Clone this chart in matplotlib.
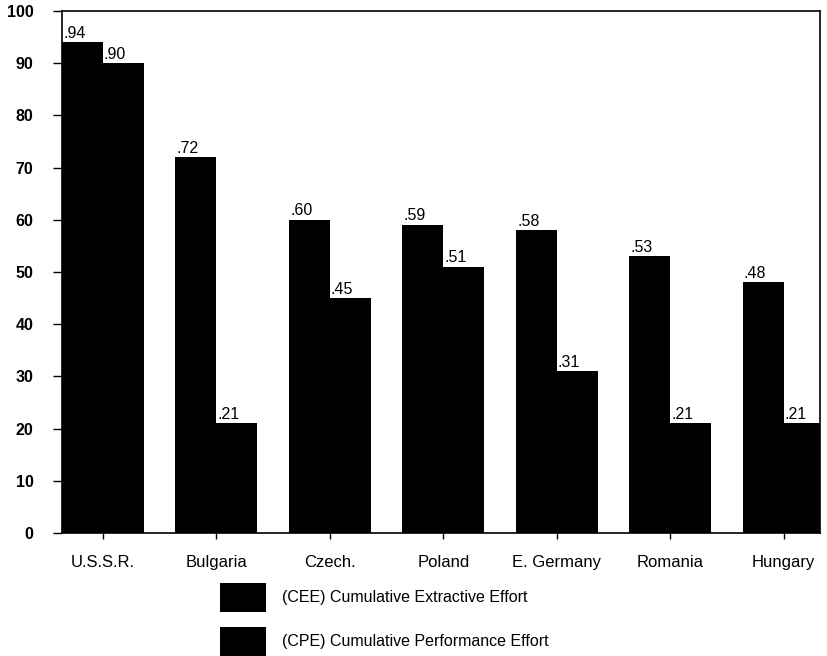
import numpy as np
import matplotlib
matplotlib.use("Agg")
import matplotlib.pyplot as plt

plt.rcParams["font.family"] = ["Liberation Sans", "DejaVu Sans"]

# country groups and the two effort indices
countries = ["U.S.S.R.", "Bulgaria", "Czech.", "Poland", "E. Germany", "Romania", "Hungary"]
cee = [0.94, 0.72, 0.60, 0.59, 0.58, 0.53, 0.48]
cpe = [0.90, 0.21, 0.45, 0.51, 0.31, 0.21, 0.21]
cee_label = "(CEE) Cumulative Extractive Effort"
cpe_label = "(CPE) Cumulative Performance Effort"
y_ticks = [0, 10, 20, 30, 40, 50, 60, 70, 80, 90, 100]

x = np.arange(len(countries))
w = 0.36

fig = plt.figure(figsize=(8.28, 6.56), dpi=100)
ax = fig.add_axes([0.0749, 0.1875, 0.9154, 0.7957])

cee_pct = [v * 100 for v in cee]
cpe_pct = [v * 100 for v in cpe]
b1 = ax.bar(x - w / 2, cee_pct, width=w, color="black", label=cee_label)
b2 = ax.bar(x + w / 2, cpe_pct, width=w, color="black", label=cpe_label)

# value labels sit on the left corner of each bar
for xi, v, h in zip(x, cee, cee_pct):
    ax.text(xi - w + 0.01, h + 0.3, f"{v:.2f}"[1:], ha="left", va="bottom", fontsize=11.5)
for xi, v, h in zip(x, cpe, cpe_pct):
    ax.text(xi + 0.01, h + 0.3, f"{v:.2f}"[1:], ha="left", va="bottom", fontsize=11.5)

ax.set_xlim(-0.36, 6.32)
ax.set_ylim(0, 100)
ax.set_yticks(y_ticks)
ax.set_yticklabels([str(t) for t in y_ticks], fontsize=11.5, fontweight="bold")
ax.set_xticks(x)
ax.set_xticklabels(countries, fontsize=12)
ax.tick_params(axis="y", direction="out", length=6.5, width=1.0, pad=14, left=True, right=False)
ax.tick_params(axis="x", direction="out", length=4, width=1.0, pad=12, top=False)

for s in ax.spines.values():
    s.set_linewidth(1.2)
    s.set_color("black")

ax.legend(handles=[b1, b2], loc="upper left", bbox_to_anchor=(0.2657, 0.1113),
          bbox_transform=fig.transFigure, frameon=False, fontsize=11.5,
          handlelength=2.875, handleheight=2.4, labelspacing=0.95,
          handletextpad=1.0, borderpad=0, borderaxespad=0)

fig.savefig("out.png", dpi=100)
